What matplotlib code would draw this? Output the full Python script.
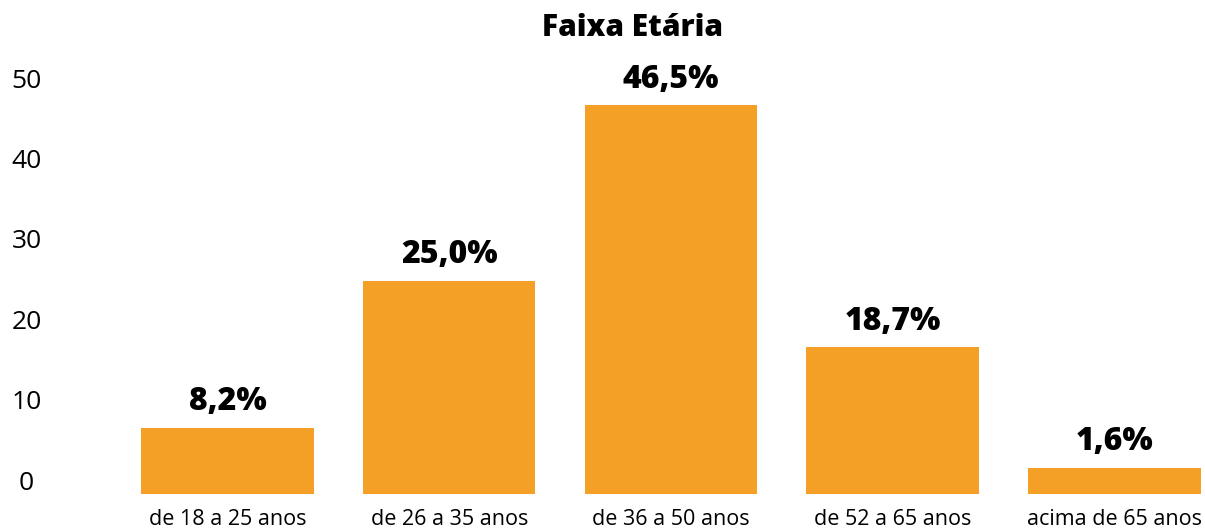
import matplotlib
matplotlib.use("Agg")
import matplotlib.pyplot as plt
import matplotlib.transforms as mtransforms

plt.rcParams['font.family'] = ['Open Sans', 'DejaVu Sans']

categories = ['de 18 a 25 anos', 'de 26 a 35 anos', 'de 36 a 50 anos',
              'de 52 a 65 anos', 'acima de 65 anos']
heights = [8.2, 26.5, 48.3, 18.2, 3.2]
labels = ['8,2%', '25,0%', '46,5%', '18,7%', '1,6%']
yticks = [0, 10, 20, 30, 40, 50]

W, H = 1205, 529
fig = plt.figure(figsize=(W / 100, H / 100), dpi=100)
# axes in pixel terms: left 60, bottom 35.3 (zero line), top 51.5
ax = fig.add_axes([60 / W, 35.3 / H, (W - 60) / W, (493.7 - 51.5) / H])

x = list(range(len(categories)))
ax.bar(x, heights, width=0.778, color='#F4A026')
ax.set_xlim(-0.755, 4.408)
ax.set_ylim(0, 55)

for xi, h, lab in zip(x, heights, labels):
    ax.annotate(lab, (xi, h), xytext=(0, 7), textcoords='offset points',
                ha='center', va='bottom', fontsize=23, fontweight='heavy')

ax.set_xticks(x)
ax.set_xticklabels(categories, fontsize=15.5)
ax.tick_params(axis='x', length=0, pad=11)

ax.set_yticks(yticks)
ax.set_yticklabels([str(t) for t in yticks], fontsize=19, ha='center')
ax.tick_params(axis='y', length=0, pad=24)
offset = mtransforms.ScaledTranslation(0, 13.7 / 100, fig.dpi_scale_trans)
for t in ax.get_yticklabels():
    t.set_transform(t.get_transform() + offset)

for s in ax.spines.values():
    s.set_visible(False)

fig.text(632 / W, 1 - 28 / H, 'Faixa Etária', ha='center', va='center',
         fontsize=21.5, fontweight='heavy')

fig.savefig('out.png', dpi=100)
